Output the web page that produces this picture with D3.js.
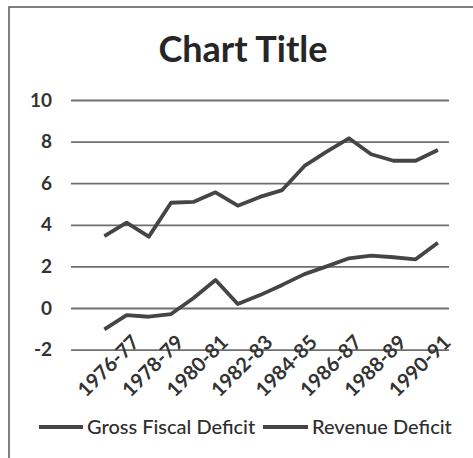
<!DOCTYPE html>
<html>
<head>
<meta charset="utf-8">
<script src="https://cdn.jsdelivr.net/npm/d3@7"></script>
<style>
  body { margin: 0; background: #fff; }
  svg text { font-family: Lato, "Noto Sans", sans-serif; fill: #333; }
</style>
</head>
<body>
<svg id="chart" width="473" height="458"></svg>
<script>
// Fiscal years on the category axis (first slot carries no data)
const categories = ["1974-75", "1975-76", "1976-77", "1977-78", "1978-79", "1979-80", "1980-81",
  "1981-82", "1982-83", "1983-84", "1984-85", "1985-86", "1986-87", "1987-88",
  "1988-89", "1989-90", "1990-91"];
const grossFiscalDeficit = [null, 3.46, 4.1, 3.43, 5.06, 5.1, 5.56, 4.92, 5.34, 5.67,
  6.83, 7.52, 8.16, 7.39, 7.08, 7.08, 7.6];
const revenueDeficit = [null, -1.03, -0.34, -0.42, -0.29, 0.47, 1.35, 0.19, 0.62, 1.11,
  1.63, 2.0, 2.39, 2.52, 2.44, 2.34, 3.14];
const seriesNames = ["Gross Fiscal Deficit", "Revenue Deficit"];
const xTickLabels = ["1976-77", "1978-79", "1980-81", "1982-83", "1984-85", "1986-87", "1988-89", "1990-91"];
const yTickValues = [-2, 0, 2, 4, 6, 8, 10];

const svg = d3.select("#chart");
const plot = { left: 71, right: 449, top: 100, bottom: 349.6 };
const lineColor = "#454545";

// Outer chart frame (runs past the right and bottom edges)
svg.append("rect")
  .attr("x", 9).attr("y", 7)
  .attr("width", 500).attr("height", 500)
  .attr("fill", "none").attr("stroke", "#555").attr("stroke-width", 1.5);

svg.append("text")
  .attr("x", 243).attr("y", 62)
  .attr("text-anchor", "middle")
  .style("font-size", "36px").style("font-weight", "bold").style("fill", "#262626")
  .text("Chart Title");

const x = d3.scaleBand().domain(categories).range([plot.left, plot.right]).padding(0);
const cx = c => x(c) + x.bandwidth() / 2;
const y = d3.scaleLinear().domain([-2, 10]).range([plot.bottom, plot.top]);

// Horizontal gridlines
const grid = svg.append("g")
  .attr("transform", `translate(${plot.left},0)`)
  .call(d3.axisLeft(y).tickValues(yTickValues).tickSize(-(plot.right - plot.left)).tickFormat(""));
grid.select(".domain").remove();
grid.selectAll("line").attr("stroke", "#6f6f6f").attr("stroke-width", 1.8);

// Value axis labels
const yAxis = svg.append("g")
  .attr("transform", `translate(${plot.left},0)`)
  .call(d3.axisLeft(y).tickValues(yTickValues).tickSize(0).tickPadding(19).tickFormat(d => String(d)));
yAxis.select(".domain").remove();
yAxis.selectAll("text")
  .attr("font-family", null)
  .style("font-size", "19px").style("font-weight", "bold");

// Category axis labels, rotated
const xAxis = svg.append("g")
  .attr("transform", `translate(0,${plot.bottom})`)
  .call(d3.axisBottom(x).tickValues(xTickLabels).tickSize(0));
xAxis.select(".domain").remove();
xAxis.selectAll("text")
  .attr("font-family", null)
  .attr("x", 0).attr("y", 0).attr("dy", "0.35em")
  .attr("text-anchor", "end")
  .attr("transform", "translate(9,-11) rotate(-45)")
  .style("font-size", "20px").style("font-weight", "bold");

// Series lines
const line = d3.line()
  .defined(d => d.v !== null)
  .x(d => cx(d.c))
  .y(d => y(d.v));

[grossFiscalDeficit, revenueDeficit].forEach(vals => {
  svg.append("path")
    .datum(categories.map((c, i) => ({ c, v: vals[i] })))
    .attr("d", line)
    .attr("fill", "none")
    .attr("stroke", lineColor)
    .attr("stroke-width", 3.8)
    .attr("stroke-linejoin", "round");
});

// Legend
const legendItems = [
  { name: seriesNames[0], x1: 39, x2: 83 },
  { name: seriesNames[1], x1: 263, x2: 308 }
];
const legend = svg.append("g").attr("transform", "translate(0,427)");
legendItems.forEach(item => {
  legend.append("line")
    .attr("x1", item.x1).attr("x2", item.x2)
    .attr("stroke", lineColor).attr("stroke-width", 3.8);
  legend.append("text")
    .attr("x", item.x2 + 4).attr("dy", "0.35em")
    .style("font-size", "20px").style("font-weight", 500).style("fill", "#2e2e2e")
    .text(item.name);
});
</script>
</body>
</html>
